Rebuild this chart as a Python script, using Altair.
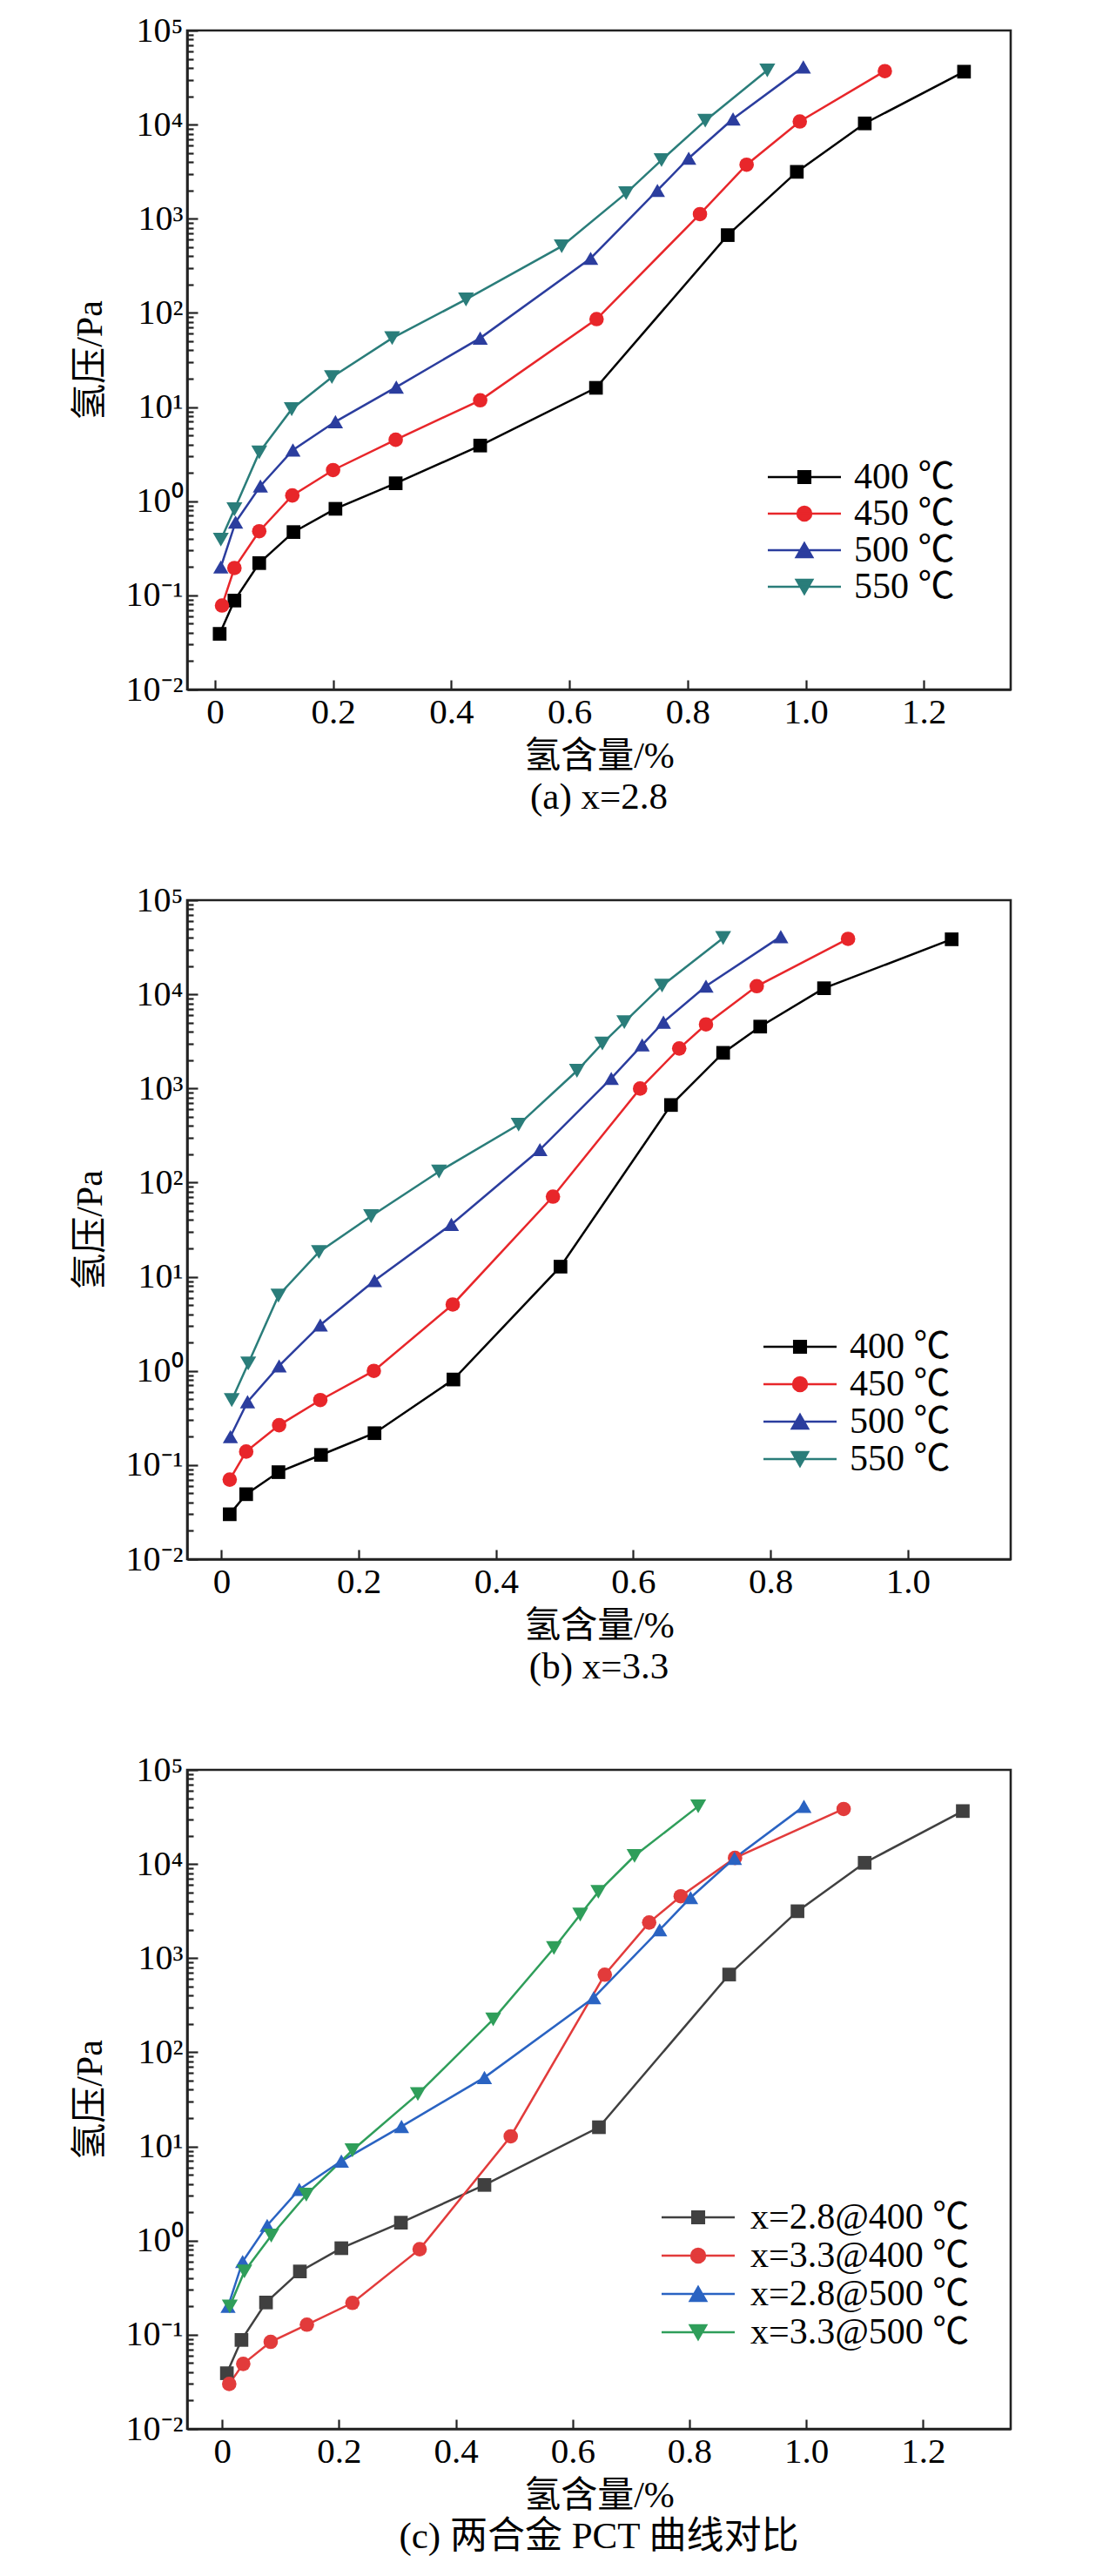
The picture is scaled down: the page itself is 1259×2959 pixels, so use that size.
import altair as alt
import pandas as pd

# ---------------- data ----------------
# x = 2.8 alloy
h28_400 = [0.008, 0.033, 0.075, 0.133, 0.204, 0.306, 0.449, 0.645, 0.868, 0.985, 1.100, 1.268]
p28_400 = [0.039, 0.088, 0.22, 0.47, 0.83, 1.55, 3.9, 16, 670, 3150, 10300, 36500]
h28_450 = [0.012, 0.033, 0.075, 0.131, 0.200, 0.306, 0.449, 0.646, 0.821, 0.900, 0.990, 1.134]
p28_450 = [0.078, 0.195, 0.48, 1.15, 2.14, 4.5, 11.8, 86, 1120, 3750, 10800, 37000]
h28_500 = [0.010, 0.035, 0.077, 0.132, 0.204, 0.307, 0.449, 0.636, 0.749, 0.802, 0.877, 0.996]
p28_500 = [0.20, 0.60, 1.45, 3.5, 7.0, 16.3, 54, 380, 2000, 4400, 11500, 41000]
h28_550 = [0.010, 0.033, 0.075, 0.130, 0.198, 0.300, 0.425, 0.587, 0.696, 0.756, 0.830, 0.935]
p28_550 = [0.39, 0.82, 3.3, 9.5, 20.8, 54, 139, 510, 1870, 4200, 11000, 37700]

# x = 3.3 alloy
h33_400 = [0.012, 0.036, 0.083, 0.145, 0.223, 0.338, 0.494, 0.655, 0.731, 0.785, 0.878, 1.064]
p33_400 = [0.030, 0.049, 0.084, 0.128, 0.218, 0.81, 12.8, 667, 2390, 4540, 11600, 38400]
h33_450 = [0.012, 0.036, 0.084, 0.144, 0.222, 0.337, 0.483, 0.610, 0.667, 0.706, 0.780, 0.913]
p33_450 = [0.070, 0.139, 0.265, 0.49, 1.0, 5.07, 71, 998, 2660, 4790, 12200, 38800]
h33_500 = [0.013, 0.038, 0.084, 0.144, 0.223, 0.335, 0.464, 0.568, 0.613, 0.644, 0.706, 0.815]
p33_500 = [0.20, 0.47, 1.13, 3.07, 9.1, 36, 224, 1280, 2900, 5060, 12200, 41000]
h33_550 = [0.015, 0.039, 0.083, 0.142, 0.218, 0.317, 0.433, 0.518, 0.555, 0.587, 0.642, 0.731]
p33_550 = [0.49, 1.2, 6.3, 18.3, 44, 131, 413, 1540, 3000, 5060, 12360, 39600]

temp_names = ["400 ℃", "450 ℃", "500 ℃", "550 ℃"]
cmp_names = ["x=2.8@400 ℃", "x=3.3@400 ℃", "x=2.8@500 ℃", "x=3.3@500 ℃"]

temp_colors = ["#000000", "#e8262a", "#2b3d9e", "#2a7d7a"]
cmp_colors = ["#404040", "#e23b3b", "#2a63c2", "#2f9e5a"]

x_ticks_a = [0, 0.2, 0.4, 0.6, 0.8, 1.0, 1.2]
x_ticks_b = [0, 0.2, 0.4, 0.6, 0.8, 1.0]
x_ticks_c = [0, 0.2, 0.4, 0.6, 0.8, 1.0, 1.2]

y_exp_labels = ["10⁻²", "10⁻¹", "10⁰", "10¹", "10²", "10³", "10⁴", "10⁵"]

captions = ["(a) x=2.8", "(b) x=3.3", "(c) 两合金 PCT 曲线对比"]

# ---------------- styling ----------------
SERIF = "Liberation Serif, Noto Sans CJK SC"
AXC = "#222222"
W, H = 946, 757

chart_shapes = ["square", "circle", "triangle-up", "triangle-down"]
chart_sizes = [246, 335, 420, 420]
LINE = "M-5.25,0H5.25"
legend_paths = [
    LINE + "M-0.85,-0.85H0.85V0.85H-0.85Z",
    LINE + "M1.0,0A1.0,1.0,0,1,1,-1.0,0A1.0,1.0,0,1,1,1.0,0Z",
    LINE + "M0,-1.0L1.15,1.0L-1.15,1.0Z",
    LINE + "M0,1.0L1.15,-1.0L-1.15,-1.0Z",
]

major_vals = [10.0 ** e for e in range(-2, 6)]
minor_vals = [m * 10.0 ** e for e in range(-2, 5) for m in range(2, 10)]
y_tick_vals = sorted(major_vals + minor_vals)

IS_MAJOR = "(abs(log(datum.value)/LN10 - round(log(datum.value)/LN10)) < 0.000001)"
LABELS_ARR = "[" + ",".join("'" + s + "'" for s in y_exp_labels) + "]"


def build_df(names, xs_list, ys_list):
    rows = []
    for name, xs, ys in zip(names, xs_list, ys_list):
        for i, (xv, yv) in enumerate(zip(xs, ys)):
            rows.append({"series": name, "h": xv, "p": yv, "ord": i})
    return pd.DataFrame(rows)


def y_axis():
    return alt.Axis(
        values=y_tick_vals,
        labelExpr=f"{IS_MAJOR} ? {LABELS_ARR}[round(log(datum.value)/LN10) + 2] : ''",
        tickSize=alt.ExprRef(expr=f"{IS_MAJOR} ? -12 : -7"),
        tickWidth=2.2,
        tickColor=AXC,
        domainColor=AXC,
        domainWidth=2.6,
        grid=False,
        labelFont=SERIF,
        labelFontSize=40,
        labelColor="black",
        labelPadding=17,
        labelOverlap=False,
        labelFlush=False,
        title="氢压/Pa",
        titleFont=SERIF,
        titleFontSize=42,
        titleFontWeight="normal",
        titleColor="black",
        titlePadding=19,
    )


def x_axis(ticks):
    return alt.Axis(
        values=ticks,
        labelExpr="datum.value == 0 ? '0' : format(datum.value, '.1f')",
        tickSize=alt.ExprRef(expr="-11"),
        tickWidth=2.2,
        tickColor=AXC,
        domainColor=AXC,
        domainWidth=2.6,
        grid=False,
        labelFont=SERIF,
        labelFontSize=41,
        labelColor="black",
        labelPadding=17,
        labelFlush=False,
        title="氢含量/%",
        titleFont=SERIF,
        titleFontSize=42,
        titleFontWeight="normal",
        titleColor="black",
        titlePadding=10,
    )


def panel(names, colors, xs_list, ys_list, xdom, xticks, caption, leg_x, leg_y, label_offset, row_pad):
    df = build_df(names, xs_list, ys_list)
    X = alt.X("h:Q", scale=alt.Scale(domain=xdom, nice=False, zero=False), axis=x_axis(xticks))
    Y = alt.Y("p:Q", scale=alt.Scale(type="log", domain=[0.01, 1e5], nice=False), axis=y_axis())
    cscale = alt.Scale(domain=names, range=colors)

    line = alt.Chart(df).mark_line(strokeWidth=2.5).encode(
        x=X, y=Y,
        color=alt.Color("series:N", scale=cscale, legend=None),
        order="ord:Q",
    )
    pts = alt.Chart(df).mark_point(filled=True, opacity=1).encode(
        x=X, y=Y,
        color=alt.Color("series:N", scale=cscale, legend=None),
        shape=alt.Shape("series:N", scale=alt.Scale(domain=names, range=chart_shapes), legend=None),
        size=alt.Size("series:N", scale=alt.Scale(domain=names, range=chart_sizes), legend=None),
    )
    leg = alt.Legend(
        title=None, orient="none", legendX=leg_x, legendY=leg_y, padding=0,
        labelFont=SERIF, labelFontSize=42, labelColor="black", labelLimit=500,
        labelOffset=label_offset, rowPadding=row_pad, symbolSize=256,
        symbolStrokeWidth=2.5, symbolOpacity=1,
    )
    legend_layer = alt.Chart(df).transform_filter("false").mark_point(
        filled=True, opacity=1, size=256, strokeWidth=2.5
    ).encode(
        x=X, y=Y,
        color=alt.Color("series:N", scale=cscale, legend=leg),
        stroke=alt.Stroke("series:N", scale=cscale, legend=leg),
        shape=alt.Shape("series:N", scale=alt.Scale(domain=names, range=legend_paths), legend=leg),
    )
    return alt.layer(line, pts, legend_layer).resolve_scale(
        color="independent", shape="independent", stroke="independent", size="independent"
    ).properties(
        width=W, height=H,
        title=alt.TitleParams(
            caption, orient="bottom", anchor="middle", font=SERIF, fontSize=43,
            fontWeight="normal", color="black", offset=6,
        ),
    )


pa = panel(temp_names, temp_colors, [h28_400, h28_450, h28_500, h28_550],
           [p28_400, p28_450, p28_500, p28_550], [-0.047, 1.347], x_ticks_a, captions[0],
           688, 492, 36, 0)
pb = panel(temp_names, temp_colors, [h33_400, h33_450, h33_500, h33_550],
           [p33_400, p33_450, p33_500, p33_550], [-0.05, 1.15], x_ticks_b, captions[1],
           683, 492, 36, 1)
pc = panel(cmp_names, cmp_colors, [h28_400, h33_400, h28_500, h33_500],
           [p28_400, p33_400, p28_500, p33_500], [-0.06, 1.35], x_ticks_c, captions[2],
           566, 493, 39, 2)

chart = alt.vconcat(pa, pb, pc, spacing=242, bounds="flush").properties(
    padding={"left": 72, "top": 5, "right": 5, "bottom": 5},
    background="white",
).configure_view(stroke=AXC, strokeWidth=2.6)

chart.save("out.html", embed_options={"renderer": "svg", "actions": False})
